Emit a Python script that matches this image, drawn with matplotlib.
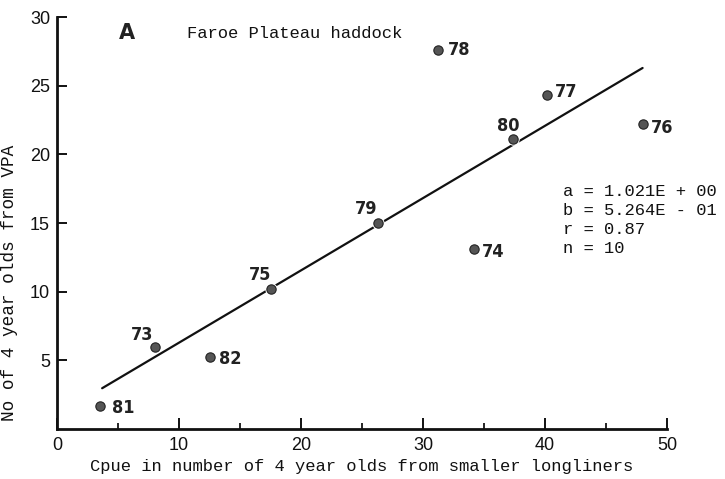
import matplotlib
matplotlib.use("Agg")
import matplotlib.pyplot as plt
import numpy as np

# Cpue (x) vs VPA number of 4-year-olds (y), labelled by year class
years = ["81", "73", "82", "75", "79", "80", "77", "78", "76", "74"]
cpue = [3.5, 8.0, 12.5, 17.5, 26.3, 37.4, 40.2, 31.2, 48.0, 34.2]
vpa = [1.7, 6.0, 5.25, 10.2, 15.0, 21.1, 24.3, 27.6, 22.2, 13.1]

# Regression parameters
a_coef = 1.021
b_coef = 0.5264
r_val = 0.87
n_val = 10
fit_x = [3.7, 48.0]

x_ticks = [0, 10, 20, 30, 40, 50]
y_ticks = [5, 10, 15, 20, 25, 30]

# label offsets (pixels) relative to each point
offsets = {"81": (12, -2), "73": (-24, 12), "82": (9, -2), "75": (-22, 14),
           "79": (-23, 14), "80": (-16, 13), "77": (7, 3), "78": (10, 0),
           "76": (8, -4), "74": (8, -3)}

mono = "Liberation Mono"
sans = "Liberation Sans"

fig = plt.figure(figsize=(7.25, 4.79), dpi=100)
ax = fig.add_axes([57 / 725, 50 / 479, 610 / 725, 412 / 479])
ax.set_xlim(0, 50)
ax.set_ylim(0, 30)

for s in ["top", "right"]:
    ax.spines[s].set_visible(False)
for s in ["left", "bottom"]:
    ax.spines[s].set_linewidth(2.0)
    ax.spines[s].set_color("#111111")

ax.set_xticks(x_ticks)
ax.set_xticks([5, 15, 25, 35, 45], minor=True)
ax.set_yticks(y_ticks)
ax.tick_params(axis="x", direction="in", length=8, width=1.4, pad=6,
               labelsize=13, colors="#111111")
ax.tick_params(axis="x", which="minor", direction="in", length=4, width=1.2)
ax.tick_params(axis="y", direction="in", length=7, width=1.4, pad=5,
               labelsize=13, colors="#111111")
for lab in ax.get_xticklabels() + ax.get_yticklabels():
    lab.set_fontfamily(sans)

# fitted line
fx = np.array(fit_x)
ax.plot(fx, a_coef + b_coef * fx, color="#111111", lw=1.6, zorder=2,
        solid_capstyle="round")

# points with a white rim that breaks the line
ax.scatter(cpue, vpa, s=45, color="#555555", edgecolors="white",
           linewidths=2.2, zorder=3)
ax.scatter(cpue, vpa, s=45, color="#555555", edgecolors="#222222",
           linewidths=0.8, zorder=4)

for yr, x, y in zip(years, cpue, vpa):
    dx, dy = offsets[yr]
    ax.annotate(yr, (x, y), xytext=(dx, dy), textcoords="offset pixels",
                ha="left", va="center", fontsize=13, fontweight="bold",
                family="DejaVu Sans", fontstretch="condensed",
                color="#222222", zorder=5)

ax.set_xlabel("Cpue in number of 4 year olds from smaller longliners",
              family=mono, fontsize=12.3, color="#111111", labelpad=3)
fig.text(10 / 725, 1 - 283 / 479, "No of 4 year olds from VPA", rotation=90,
         ha="center", va="center", family=mono, fontsize=12.8,
         color="#111111")

fig.text(119 / 725, 1 - 33 / 479, "A", family="DejaVu Sans",
         fontweight="bold", fontsize=15, ha="left", va="center",
         color="#222222")
fig.text(187 / 725, 1 - 33 / 479, "Faroe Plateau haddock", family=mono,
         fontsize=12.3, ha="left", va="center", color="#111111")

stats = (f"a = {a_coef:.3f}E + 00\n"
         f"b = {b_coef * 10:.3f}E - 01\n"
         f"r = {r_val:.2f}\n"
         f"n = {n_val}")
fig.text(563 / 725, 1 - 184 / 479, stats, family=mono, fontsize=12.3,
         ha="left", va="top", linespacing=1.33, color="#111111")

fig.savefig("out.png", dpi=100, facecolor="white")
